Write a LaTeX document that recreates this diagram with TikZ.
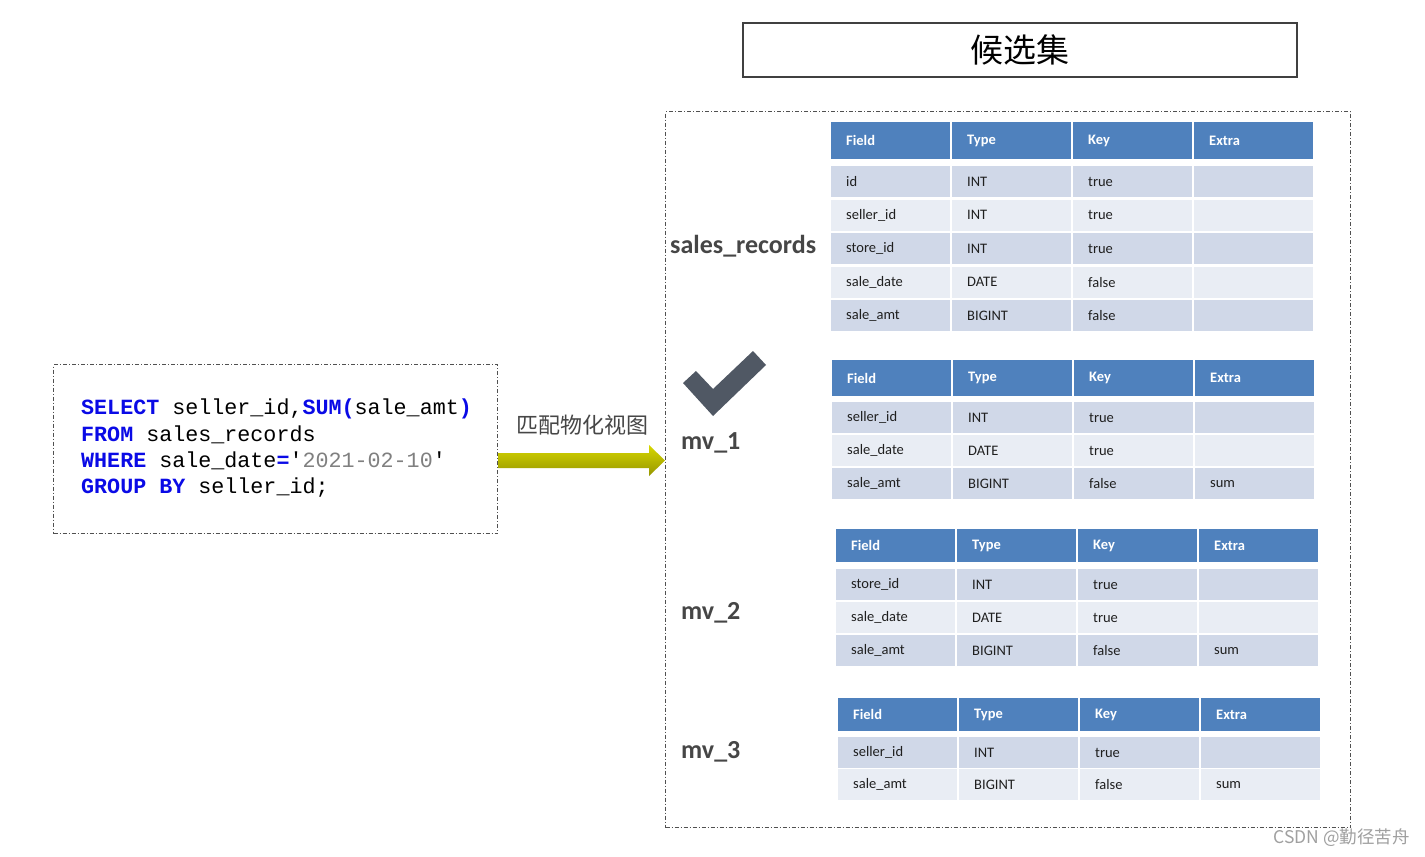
\documentclass[tikz,border=0pt]{standalone}
\usepackage{fontspec}
\setmainfont{Carlito}
\newfontfamily\codefont{Liberation Mono}
\newfontfamily\cjk{Noto Sans CJK SC}
\usetikzlibrary{calc}
\definecolor{hdr}{RGB}{79,129,189}
\definecolor{rowA}{RGB}{208,216,232}
\definecolor{rowB}{RGB}{233,237,244}
\definecolor{kw}{RGB}{10,10,230}
\definecolor{strc}{RGB}{128,128,128}
\definecolor{lbl}{RGB}{70,70,70}
\definecolor{chk}{RGB}{80,88,100}
\definecolor{dashc}{RGB}{80,80,80}
\definecolor{wm}{RGB}{160,160,160}
\tikzset{
  hcell/.style={anchor=north west, fill=hdr, text=white, font=\bfseries\fontsize{14.5}{16}\selectfont,
    minimum width=119pt, text width=89pt, inner xsep=15pt, inner ysep=0pt, align=left},
  rcell/.style={anchor=north west, text=black!88, font=\fontsize{14.5}{16}\selectfont,
    minimum width=119pt, minimum height=31pt, text width=89pt, inner xsep=15pt, inner ysep=0pt, align=left},
  dashbox/.style={draw=dashc, line width=1.3pt, dash pattern=on 4pt off 2pt on 1pt off 2pt, anchor=north west, inner sep=0pt},
  codeline/.style={anchor=base west, inner sep=0pt, font=\codefont\fontsize{21.7}{26}\selectfont},
  tname/.style={anchor=base west, inner sep=0pt, text=lbl, font=\bfseries\fontsize{26}{30}\selectfont},
}
\newcommand\kwd[1]{\textcolor{kw}{\bfseries #1}}
\newcommand\dbtable[7]{%
  \foreach \h [count=\c from 0] in {Field,Type,Key,Extra}
    \node[hcell, minimum height=#4] (#1-h\c) at ({#2+121*\c},#3) {\h};
  \foreach \fa/\fb/\fc/\fd [count=\r from 0] in {#7} {
    \pgfmathtruncatemacro\odd{mod(\r,2)}
    \ifnum\odd=0 \def\rc{rowA}\else\def\rc{rowB}\fi
    \pgfmathsetmacro\yy{#5+#6*\r}
    \node[rcell, fill=\rc] (#1-r\r-c0) at (#2,\yy) {\fa};
    \node[rcell, fill=\rc] (#1-r\r-c1) at ({#2+121},\yy) {\fb};
    \node[rcell, fill=\rc] (#1-r\r-c2) at ({#2+242},\yy) {\fc};
    \node[rcell, fill=\rc] (#1-r\r-c3) at ({#2+363},\yy) {\fd};
  }
}
\begin{document}
\begin{tikzpicture}[x=1pt,y=-1pt]
\useasboundingbox[fill=white] (0,0) rectangle (1425,857);

% title
\node[draw=black!75, line width=1.5pt, fill=white, minimum width=554pt, minimum height=54pt, inner sep=0pt,
  font=\cjk\fontsize{33}{36}\selectfont] (title) at (1020,50) {候选集};

% candidate set box
\node[dashbox, minimum width=685pt, minimum height=716pt] (cand) at (665,111) {};

% SQL box
\node[dashbox, minimum width=444pt, minimum height=169pt] (sqlbox) at (53,364) {};
\node[codeline] (l1) at (81,414.5) {\kwd{SELECT} seller\_id,\kwd{SUM(}sale\_amt\kwd{)}};
\node[codeline] (l2) at (81,441) {\kwd{FROM} sales\_records};
\node[codeline] (l3) at (81,467) {\kwd{WHERE} sale\_date\kwd{=}'\textcolor{strc}{2021-02-10}'};
\node[codeline] (l4) at (81,493.5) {\kwd{GROUP BY} seller\_id;};

% arrow
\node[text=lbl, inner sep=0pt, font=\cjk\fontsize{22}{26}\selectfont] (match) at (582,425) {匹配物化视图};
\coordinate (arrS) at (sqlbox.east |- 0,460.5);
\coordinate (arrE) at (cand.west |- 0,460.5);
\shade[top color={rgb,255:red,215;green,215;blue,0}, middle color={rgb,255:red,235;green,235;blue,20},
  bottom color={rgb,255:red,150;green,150;blue,0}]
  ($(arrS)+(0,-7.5)$) -- ($(arrE)+(-16,-7.5)$) -- ($(arrE)+(-16,-15.5)$) -- (arrE)
  -- ($(arrE)+(-16,15.5)$) -- ($(arrE)+(-16,7.5)$) -- ($(arrS)+(0,7.5)$) -- cycle;

% table names
\node[tname] (n0) at (670,253) {sales\_records};
\node[tname] (n1) at (681,449) {mv\_1};
\node[tname] (n2) at (681,619.5) {mv\_2};
\node[tname] (n3) at (681,758) {mv\_3};

% check mark
\fill[chk] (683,383) -- (696,371) -- (713,389) -- (753,351) -- (766,365) -- (713,416) -- cycle;

% tables
\dbtable{t0}{831}{122}{37pt}{166}{33.5}{id/INT/true/{}, seller\_id/INT/true/{}, store\_id/INT/true/{}, sale\_date/DATE/false/{}, sale\_amt/BIGINT/false/{}}
\dbtable{t1}{832}{360}{36pt}{402}{33}{seller\_id/INT/true/{}, sale\_date/DATE/true/{}, sale\_amt/BIGINT/false/sum}
\dbtable{t2}{836}{529}{33pt}{569}{33}{store\_id/INT/true/{}, sale\_date/DATE/true/{}, sale\_amt/BIGINT/false/sum}
\dbtable{t3}{838}{698}{33pt}{737}{32}{seller\_id/INT/true/{}, sale\_amt/BIGINT/false/sum}

% watermark
\node[anchor=east, inner sep=0pt, text=wm, font=\cjk\fontsize{17.5}{20}\selectfont] (wmark) at (1410,838) {CSDN @勤径苦舟};
\end{tikzpicture}
\end{document}
